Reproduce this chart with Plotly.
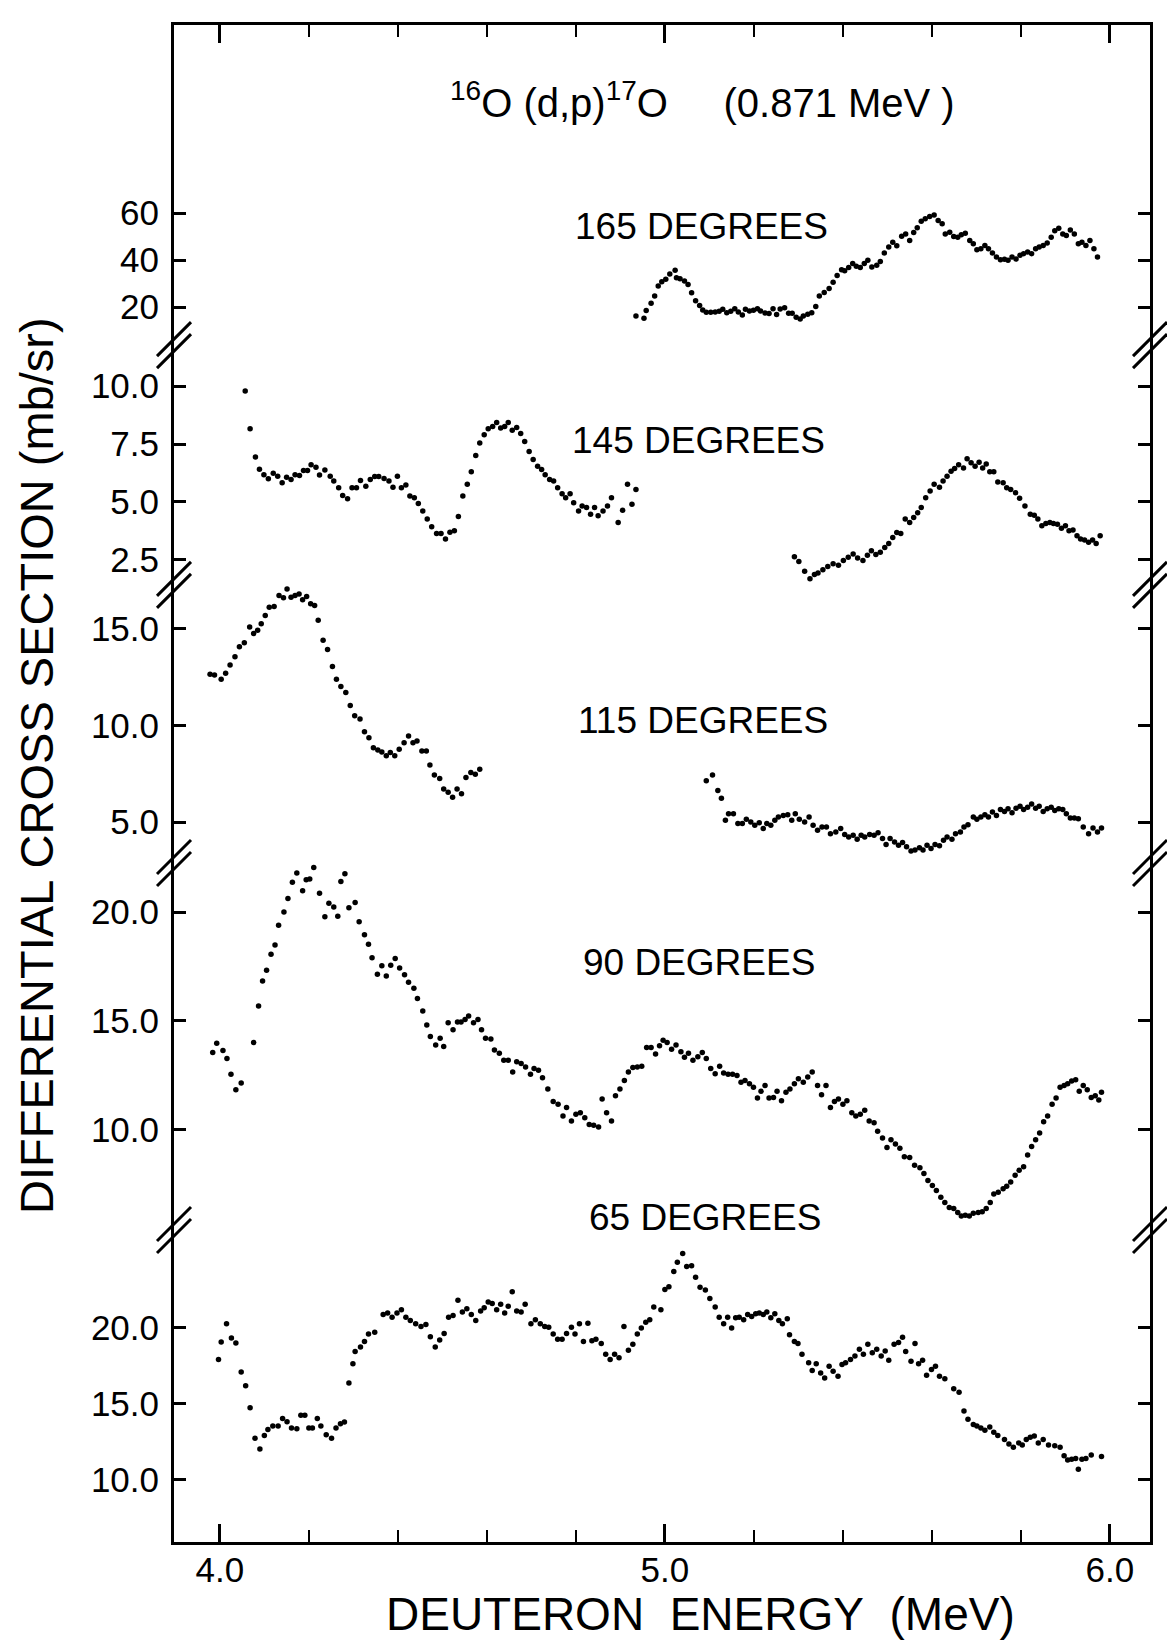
import plotly.graph_objects as go

# ---------------- data (deuteron energy MeV, cross section mb/sr) ----------------
pts165 = [(4.935,16.2),(4.953,15.2),(4.958,18.5),(4.969,21.6),(4.977,24.7),(4.985,28.9),(4.993,30.7),(5.002,31.8),(5.011,34.0),(5.023,35.6),
 (5.026,32.5),(5.034,32.0),(5.044,31.1),(5.052,29.6),(5.060,26.1),(5.069,22.7),(5.078,20.6),(5.085,18.7),(5.093,17.8),(5.103,17.8),
 (5.113,17.9),(5.122,18.2),(5.130,19.0),(5.139,17.6),(5.148,18.2),(5.157,19.3),(5.165,17.9),(5.174,16.6),(5.181,19.0),(5.190,18.3),
 (5.199,18.6),(5.208,19.3),(5.215,18.3),(5.225,17.5),(5.234,17.2),(5.243,19.3),(5.251,16.8),(5.259,19.2),(5.269,19.7),(5.278,17.3),
 (5.286,17.3),(5.295,15.6),(5.304,14.9),(5.311,16.2),(5.321,16.9),(5.330,17.6),(5.339,20.2),(5.347,24.7),(5.358,26.2),(5.369,27.9),
 (5.378,30.5),(5.387,33.4),(5.397,35.9),(5.404,35.4),(5.413,36.8),(5.422,38.5),(5.430,37.3),(5.439,36.8),(5.448,38.5),(5.456,39.9),(5.465,37.0),
 (5.476,37.8),(5.484,39.4),(5.493,43.0),(5.503,45.5),(5.512,47.6),(5.521,46.1),(5.532,50.1),(5.541,51.1),(5.550,48.3),(5.559,51.7),
 (5.567,53.7),(5.576,56.5),(5.585,57.6),(5.595,58.5),(5.605,59.2),(5.614,56.8),(5.623,55.4),(5.630,51.1),(5.640,51.8),(5.649,50.0),
 (5.658,49.7),(5.666,50.8),(5.675,51.4),(5.685,48.3),(5.693,46.9),(5.701,44.4),(5.710,44.8),(5.719,46.2),(5.727,44.8),(5.736,43.0),
 (5.745,41.3),(5.754,40.1),(5.763,40.3),(5.771,39.9),(5.780,41.3),(5.789,40.4),(5.798,42.0),(5.806,42.7),(5.815,43.4),(5.824,42.7),
 (5.833,44.8),(5.841,45.5),(5.850,46.2),(5.859,47.2),(5.868,49.7),(5.876,52.5),(5.885,53.5),(5.894,51.1),(5.902,50.4),(5.911,52.8),
 (5.920,51.1),(5.929,46.9),(5.937,47.6),(5.946,46.2),(5.955,48.3),(5.964,44.8),(5.972,41.3)]

pts145 = [(4.057,9.79),(4.068,8.16),(4.080,6.94),(4.089,6.41),(4.099,6.18),(4.109,6.00),(4.120,6.24),(4.130,6.11),(4.140,5.83),(4.150,6.07),
 (4.160,5.97),(4.169,6.18),(4.179,6.14),(4.188,6.36),(4.197,6.36),(4.205,6.61),(4.216,6.50),(4.224,6.16),(4.236,6.38),(4.248,6.11),
 (4.256,5.90),(4.267,5.61),(4.276,5.28),(4.287,5.14),(4.297,5.61),(4.307,5.61),(4.316,5.93),(4.328,5.68),(4.338,5.97),(4.348,6.10),
 (4.357,6.10),(4.369,6.01),(4.380,5.90),(4.389,5.64),(4.399,6.11),(4.408,5.61),(4.418,5.73),(4.427,5.26),(4.437,5.18),(4.446,4.93),
 (4.456,4.61),(4.466,4.26),(4.476,3.93),(4.487,3.64),(4.497,3.64),(4.507,3.40),(4.517,3.69),(4.527,3.76),(4.536,4.37),(4.546,5.26),
 (4.556,5.76),(4.565,6.30),(4.575,7.00),(4.584,7.54),(4.594,7.90),(4.603,8.16),(4.613,8.26),(4.622,8.43),(4.631,8.19),(4.640,8.26),
 (4.648,8.43),(4.657,8.09),(4.667,8.21),(4.676,7.96),(4.685,7.61),(4.695,7.18),(4.704,6.83),(4.714,6.54),(4.723,6.40),(4.731,6.18),
 (4.741,5.97),(4.750,5.90),(4.759,5.61),(4.769,5.36),(4.777,5.18),(4.787,5.36),(4.795,4.97),(4.806,4.61),(4.814,4.83),(4.824,4.76),
 (4.833,4.47),(4.842,4.76),(4.850,4.40),(4.861,4.61),(4.871,4.83),(4.880,5.18),(4.895,4.11),(4.905,4.64),(4.916,5.76),(4.926,4.90),
 (4.935,5.54),
 (5.291,2.64),(5.301,2.43),(5.314,2.01),(5.326,1.69),(5.336,1.87),(5.344,1.93),(5.355,2.07),(5.366,2.21),(5.378,2.33),(5.390,2.27),
 (5.401,2.47),(5.412,2.61),(5.423,2.76),(5.433,2.58),(5.445,2.47),(5.455,2.70),(5.464,2.90),(5.474,2.73),(5.484,2.83),(5.494,3.04),
 (5.503,3.21),(5.512,3.47),(5.521,3.68),(5.530,3.64),(5.540,4.26),(5.550,4.11),(5.559,4.33),(5.568,4.54),(5.576,4.76),(5.586,5.18),
 (5.596,5.47),(5.605,5.76),(5.617,5.64),(5.625,5.90),(5.634,6.11),(5.643,6.33),(5.651,6.44),(5.660,6.61),(5.671,6.47),(5.679,6.86),
 (5.688,6.69),(5.697,6.54),(5.706,6.71),(5.714,6.47),(5.722,6.64),(5.730,6.30),(5.739,6.30),(5.748,5.86),(5.760,5.83),(5.768,5.61),
 (5.777,5.54),(5.788,5.40),(5.797,5.16),(5.809,4.83),(5.821,4.47),(5.830,4.43),(5.838,4.26),(5.847,3.97),(5.856,4.07),(5.865,4.11),(5.873,4.07),
 (5.882,4.04),(5.891,3.87),(5.900,3.97),(5.908,3.76),(5.917,3.79),(5.926,3.54),(5.934,3.40),(5.943,3.36),(5.952,3.26),(5.961,3.36),
 (5.969,3.21),(5.978,3.54)]

pts115 = [(3.978,12.65),(3.988,12.62),(4.003,12.40),(4.013,12.71),(4.023,13.13),(4.034,13.56),(4.044,14.08),(4.055,14.28),(4.067,15.10),(4.076,14.76),
 (4.085,14.93),(4.093,15.27),(4.102,15.70),(4.111,16.13),(4.122,16.16),(4.133,16.73),(4.143,16.61),(4.151,17.07),(4.160,16.64),(4.169,16.73),
 (4.178,16.81),(4.186,16.51),(4.195,16.68),(4.204,16.30),(4.213,16.22),(4.221,15.45),(4.232,14.42),(4.242,13.94),(4.253,13.05),(4.262,12.40),
 (4.272,12.02),(4.283,11.71),(4.293,11.03),(4.303,10.51),(4.315,10.34),(4.325,9.67),(4.335,9.37),(4.345,8.85),(4.355,8.73),(4.364,8.63),
 (4.374,8.43),(4.383,8.60),(4.393,8.43),(4.403,8.77),(4.414,9.11),(4.424,9.45),(4.434,9.11),(4.443,9.20),(4.454,8.68),(4.464,8.68),
 (4.472,7.95),(4.482,7.43),(4.494,7.26),(4.503,6.71),(4.513,6.54),(4.523,6.29),(4.533,6.71),(4.543,6.46),(4.553,7.31),(4.564,7.57),
 (4.574,7.48),(4.584,7.74),
 (5.093,7.14),(5.107,7.43),(5.119,6.63),(5.127,6.23),(5.136,5.09),(5.143,5.43),(5.154,5.43),(5.164,4.92),(5.174,4.92),(5.183,5.14),
 (5.193,5.00),(5.202,4.83),(5.212,4.97),(5.221,4.66),(5.229,4.92),(5.238,4.83),(5.247,5.09),(5.255,5.26),(5.266,5.34),(5.276,5.38),
 (5.285,5.09),(5.293,5.43),(5.302,5.14),(5.314,5.00),(5.324,5.26),(5.333,4.83),(5.343,4.57),(5.353,4.74),(5.363,4.74),(5.372,4.40),
 (5.384,4.49),(5.395,4.66),(5.404,4.35),(5.413,4.23),(5.423,4.32),(5.432,4.11),(5.441,4.32),(5.449,4.23),(5.460,4.35),(5.470,4.32),
 (5.479,4.45),(5.489,4.15),(5.497,3.84),(5.506,4.15),(5.516,3.97),(5.525,3.80),(5.534,3.94),(5.543,3.72),(5.553,3.50),(5.562,3.55),
 (5.572,3.67),(5.580,3.55),(5.589,3.80),(5.598,3.63),(5.607,3.84),(5.617,3.77),(5.626,4.06),(5.634,4.23),(5.645,4.11),(5.653,4.40),
 (5.664,4.49),(5.672,4.74),(5.681,4.86),(5.693,5.26),(5.701,5.14),(5.710,5.26),(5.719,5.38),(5.727,5.26),(5.736,5.52),(5.745,5.34),
 (5.754,5.65),(5.763,5.55),(5.771,5.69),(5.780,5.48),(5.789,5.72),(5.798,5.82),(5.806,5.65),(5.815,5.77),(5.824,5.94),(5.833,5.72),
 (5.841,5.82),(5.850,5.55),(5.859,5.69),(5.868,5.77),(5.876,5.60),(5.885,5.69),(5.894,5.65),(5.902,5.43),(5.911,5.21),(5.920,5.21),
 (5.929,5.17),(5.940,4.74),(5.952,4.40),(5.962,4.69),(5.972,4.49),(5.981,4.69)]

pts90 = [(3.984,13.55),(3.993,13.98),(4.007,13.64),(4.016,13.28),(4.025,12.55),(4.036,11.84),(4.048,12.15),(4.076,14.01),(4.087,15.69),(4.096,16.83),
 (4.105,17.33),(4.115,18.06),(4.124,18.49),(4.132,19.39),(4.144,20.00),(4.153,20.62),(4.163,21.37),(4.173,21.79),(4.186,20.98),(4.194,21.48),
 (4.202,21.52),(4.211,22.04),(4.224,20.86),(4.236,19.78),(4.245,20.40),(4.256,20.23),(4.265,19.81),(4.272,21.40),(4.281,21.76),(4.290,20.20),
 (4.304,20.44),(4.313,19.55),(4.325,18.96),(4.334,18.52),(4.342,17.90),(4.354,17.14),(4.364,17.53),(4.374,17.06),(4.384,17.56),(4.394,17.87),
 (4.404,17.43),(4.415,17.12),(4.424,16.78),(4.436,16.50),(4.444,16.03),(4.456,15.46),(4.465,14.81),(4.473,14.29),(4.485,13.90),(4.495,14.21),
 (4.503,13.83),(4.513,14.92),(4.524,14.60),(4.534,14.95),(4.542,14.95),(4.551,15.07),(4.559,15.23),(4.570,14.92),(4.580,15.07),(4.588,14.60),
 (4.597,14.21),(4.609,14.17),(4.617,13.67),(4.628,13.52),(4.638,13.20),(4.648,13.20),(4.658,12.66),(4.667,13.13),(4.677,13.05),(4.687,12.89),
 (4.698,12.55),(4.706,12.82),(4.716,12.74),(4.725,12.40),(4.737,11.88),(4.749,11.31),(4.760,11.18),(4.771,10.64),(4.779,11.03),(4.790,10.41),
 (4.800,10.72),(4.810,10.79),(4.820,10.56),(4.830,10.25),(4.840,10.22),(4.851,10.13),(4.859,11.42),(4.869,10.79),(4.880,10.41),(4.889,11.57),
 (4.899,11.88),(4.909,12.27),(4.918,12.66),(4.928,12.86),(4.938,12.89),(4.948,12.92),(4.959,13.78),(4.969,13.78),(4.979,13.48),(4.988,13.86),
 (4.996,14.11),(5.005,14.01),(5.015,13.70),(5.025,13.90),(5.036,13.59),(5.044,13.33),(5.053,13.52),(5.063,13.20),(5.074,13.36),(5.084,13.55),
 (5.093,13.28),(5.103,12.82),(5.113,12.58),(5.123,12.92),(5.132,12.61),(5.142,12.55),(5.152,12.55),(5.162,12.50),(5.171,12.19),(5.180,12.27),
 (5.190,12.12),(5.199,11.96),(5.208,11.46),(5.216,11.77),(5.225,12.04),(5.234,11.46),(5.244,11.49),(5.252,11.77),(5.262,11.34),(5.272,11.73),
 (5.281,11.88),(5.291,12.12),(5.300,12.35),(5.311,12.19),(5.321,12.43),(5.331,12.66),(5.343,12.04),(5.352,11.62),(5.362,12.04),(5.372,11.03),
 (5.381,11.31),(5.390,11.42),(5.400,11.18),(5.409,11.34),(5.420,10.79),(5.429,10.64),(5.439,10.72),(5.449,10.90),(5.459,10.41),(5.470,10.33),
 (5.478,9.94),(5.489,9.63),(5.499,9.19),(5.508,9.55),(5.518,9.35),(5.528,9.16),(5.538,8.77),(5.550,8.73),(5.561,8.38),(5.573,8.26),
 (5.582,8.00),(5.591,7.68),(5.601,7.45),(5.610,7.22),(5.620,6.91),(5.629,6.67),(5.639,6.44),(5.649,6.39),(5.658,6.21),(5.666,6.05),
 (5.675,6.08),(5.684,6.05),(5.693,6.18),(5.704,6.21),(5.713,6.24),(5.722,6.39),(5.731,6.67),(5.739,7.06),(5.749,7.14),(5.760,7.30),
 (5.768,7.42),(5.777,7.61),(5.787,7.92),(5.796,8.15),(5.806,8.31),(5.815,8.85),(5.824,9.24),(5.833,9.55),(5.842,9.86),(5.851,10.37),
 (5.860,10.64),(5.870,11.18),(5.879,11.46),(5.888,11.96),(5.897,12.04),(5.905,12.12),(5.914,12.24),(5.923,12.30),(5.931,11.77),(5.940,12.04),
 (5.949,11.84),(5.958,11.49),(5.967,11.57),(5.975,11.37),(5.981,11.73)]

pts65 = [(3.997,17.92),(4.003,19.08),(4.015,20.27),(4.026,19.33),(4.036,19.00),(4.048,17.10),(4.058,16.18),(4.068,14.73),(4.079,12.72),(4.090,12.01),
 (4.100,12.90),(4.108,13.30),(4.119,13.53),(4.131,13.53),(4.141,14.02),(4.151,13.80),(4.161,13.39),(4.173,13.35),(4.182,14.24),(4.191,14.24),
 (4.200,13.39),(4.208,13.39),(4.219,14.02),(4.227,13.53),(4.239,12.95),(4.251,12.72),(4.261,13.39),(4.271,13.68),(4.280,13.79),(4.290,16.36),
 (4.299,17.63),(4.304,18.44),(4.316,18.75),(4.325,19.11),(4.334,19.60),(4.348,19.71),(4.367,20.89),(4.377,20.98),(4.387,20.71),(4.398,20.98),
 (4.408,21.21),(4.418,20.71),(4.428,20.49),(4.440,20.27),(4.452,20.09),(4.463,20.22),(4.473,19.42),(4.484,18.75),(4.494,19.20),(4.504,19.64),
 (4.514,20.71),(4.524,20.83),(4.535,21.83),(4.545,21.05),(4.555,21.27),(4.565,20.89),(4.575,20.49),(4.586,21.12),(4.594,21.34),(4.603,21.72),
 (4.612,21.61),(4.622,21.21),(4.631,21.56),(4.640,20.98),(4.648,21.43),(4.657,22.39),(4.667,21.12),(4.677,21.05),(4.686,21.56),(4.699,20.27),
 (4.709,20.54),(4.720,20.27),(4.730,20.09),(4.739,20.04),(4.749,19.60),(4.759,19.26),(4.769,19.26),(4.779,19.64),(4.790,20.04),(4.798,19.60),
 (4.808,20.27),(4.817,19.11),(4.827,20.31),(4.836,19.15),(4.845,19.26),(4.857,18.97),(4.867,18.26),(4.877,17.92),(4.887,18.26),(4.897,18.04),
 (4.908,20.09),(4.918,18.53),(4.928,18.93),(4.938,19.60),(4.947,20.00),(4.957,20.38),(4.966,20.54),(4.975,21.38),(4.991,21.21),(5.000,22.54),
 (5.009,22.72),(5.020,23.73),(5.028,24.33),(5.040,24.91),(5.049,24.06),(5.060,24.11),(5.069,23.35),(5.079,22.68),(5.091,22.50),(5.101,21.94),
 (5.113,21.38),(5.122,20.71),(5.132,20.27),(5.141,20.71),(5.150,20.00),(5.159,20.67),(5.167,20.71),(5.177,20.54),(5.186,20.89),(5.195,20.76),
 (5.204,20.94),(5.212,20.98),(5.221,20.89),(5.229,21.05),(5.238,20.67),(5.247,20.94),(5.256,20.49),(5.264,20.27),(5.275,20.60),(5.280,19.55),
 (5.291,19.11),(5.299,18.97),(5.308,18.26),(5.323,17.70),(5.331,17.19),(5.340,17.63),(5.350,17.03),(5.359,16.70),(5.369,17.48),(5.378,17.14),
 (5.389,16.81),(5.398,17.59),(5.406,17.70),(5.417,17.92),(5.427,18.15),(5.437,18.59),(5.446,18.26),(5.456,18.93),(5.466,18.37),(5.476,18.59),
 (5.486,18.15),(5.495,18.48),(5.503,17.86),(5.515,18.93),(5.525,19.04),(5.534,19.38),(5.541,18.44),(5.553,17.81),(5.562,18.97),(5.570,17.63),
 (5.579,17.86),(5.588,16.88),(5.599,17.25),(5.608,17.48),(5.617,16.81),(5.629,16.65),(5.649,15.98),(5.661,15.76),(5.672,14.51),(5.681,13.97),
 (5.693,13.62),(5.701,13.53),(5.710,13.39),(5.719,13.24),(5.730,13.46),(5.739,13.12),(5.748,12.90),(5.763,12.63),(5.773,12.34),(5.783,12.12),
 (5.795,12.41),(5.803,12.28),(5.812,12.63),(5.821,12.79),(5.830,12.86),(5.839,12.41),(5.850,12.63),(5.862,12.28),(5.876,12.23),(5.888,12.12),
 (5.897,11.56),(5.905,11.29),(5.914,11.34),(5.923,11.38),(5.929,10.67),(5.937,11.34),(5.946,11.38),(5.958,11.61),(5.981,11.52)]

panel_labels = ["165 DEGREES", "145 DEGREES", "115 DEGREES", "90 DEGREES", "65 DEGREES"]
ticks165 = [20, 40, 60];        ticktext165 = ["20", "40", "60"]
ticks145 = [2.5, 5, 7.5, 10];   ticktext145 = ["2.5", "5.0", "7.5", "10.0"]
ticks115 = [5, 10, 15];         ticktext115 = ["5.0", "10.0", "15.0"]
ticks90 = [10, 15, 20];         ticktext90 = ["10.0", "15.0", "20.0"]
ticks65 = [10, 15, 20];         ticktext65 = ["10.0", "15.0", "20.0"]
x_ticks = [4.0, 5.0, 6.0];      x_ticktext = ["4.0", "5.0", "6.0"]

# ---------------- layout geometry ----------------
W, H = 1167, 1644
ML, MR, MT, MB = 174, 17, 25, 102
FONT = "Liberation Sans, Arial, sans-serif"
TICKFONT = dict(family=FONT, size=35, color="black")

breaks = [0.789, 0.6309, 0.4476, 0.2057]
domains = [[0.789, 1.0], [0.6309, 0.789], [0.4476, 0.6309], [0.2057, 0.4476], [0.0, 0.2057]]
ranges = [[3.8, 140], [1.42, 11.77], [2.88, 17.28], [5.41, 22.25], [5.87, 26.47]]
series = [pts165, pts145, pts115, pts90, pts65]
tickvals = [ticks165, ticks145, ticks115, ticks90, ticks65]
ticktexts = [ticktext165, ticktext145, ticktext115, ticktext90, ticktext65]
label_pos = [(0.540, 0.8675), (0.537, 0.7264), (0.5415, 0.5412), (0.538, 0.382), (0.5436, 0.2136)]

fig = go.Figure()
for i, pts in enumerate(series):
    yid = "y" if i == 0 else f"y{i+1}"
    fig.add_trace(go.Scatter(
        x=[p[0] for p in pts], y=[p[1] for p in pts],
        mode="markers", xaxis="x", yaxis=yid,
        marker=dict(size=5.5, color="black"),
        showlegend=False, hoverinfo="skip"))
# helper so the top frame axis exists
fig.add_trace(go.Scatter(x=[], y=[], xaxis="x2", yaxis="y", showlegend=False))

XR = [3.897, 6.090]
layout = dict(
    width=W, height=H,
    margin=dict(l=ML, r=MR, t=MT, b=MB),
    paper_bgcolor="white", plot_bgcolor="white",
    showlegend=False,
    xaxis=dict(domain=[0, 1], range=XR, anchor="y5", showline=True, linecolor="black", linewidth=3,
               ticks="inside", ticklen=18, tickwidth=2.5, tickcolor="black",
               tickvals=x_ticks, ticktext=x_ticktext, tickfont=TICKFONT, ticklabelstandoff=-5,
               minor=dict(ticks="inside", ticklen=12, tickwidth=2, tickcolor="black", dtick=0.2, tick0=4.0, showgrid=False),
               showgrid=False, zeroline=False),
    xaxis2=dict(range=XR, overlaying="x", side="top", anchor="y", showline=True, linecolor="black", linewidth=3,
                ticks="inside", ticklen=18, tickwidth=2.5, tickcolor="black", tickvals=x_ticks, showticklabels=False,
                minor=dict(ticks="inside", ticklen=12, tickwidth=2, tickcolor="black", dtick=0.2, tick0=4.0, showgrid=False),
                showgrid=False, zeroline=False),
)
for i in range(5):
    key = "yaxis" if i == 0 else f"yaxis{i+1}"
    layout[key] = dict(domain=domains[i], range=ranges[i], anchor="x",
                       showline=True, linecolor="black", linewidth=3, mirror="ticks",
                       ticks="inside", ticklen=12, tickwidth=2.5, tickcolor="black",
                       tickvals=tickvals[i], ticktext=ticktexts[i], tickfont=TICKFONT,
                       ticklabelstandoff=5, showgrid=False, zeroline=False)
fig.update_layout(**layout)

# axis-break marks
shapes = []
for b in breaks:
    for side in (0, 1):
        for off in (6, -6):
            shapes.append(dict(type="line", xref="paper", yref="paper",
                               xsizemode="pixel", ysizemode="pixel", xanchor=side, yanchor=b,
                               x0=-17, x1=17, y0=off - 17, y1=off + 17,
                               line=dict(color="black", width=3)))
fig.update_layout(shapes=shapes)

NB = "\u00a0"
ann = []
for (lx, ly), txt in zip(label_pos, panel_labels):
    ann.append(dict(text=txt, x=lx, y=ly, xref="paper", yref="paper", showarrow=False,
                    xanchor="center", yanchor="middle", font=dict(family=FONT, size=37, color="black")))
ann.append(dict(text="<sup>16</sup>O" + NB + "(d,p)<sup>17</sup>O" + NB * 5 + "(0.871" + NB + "MeV" + NB + ")",
                x=0.541, y=0.9506, xref="paper", yref="paper", showarrow=False,
                xanchor="center", yanchor="middle", font=dict(family=FONT, size=40, color="black")))
ann.append(dict(text="DIFFERENTIAL CROSS SECTION (mb/sr)", x=-0.1404, y=0.5122, xref="paper", yref="paper",
                showarrow=False, textangle=-90, xanchor="center", yanchor="middle",
                font=dict(family=FONT, size=47, color="black")))
ann.append(dict(text="DEUTERON" + NB * 2 + "ENERGY" + NB * 2 + "(MeV)", x=0.539, y=-0.0475, xref="paper", yref="paper",
                showarrow=False, xanchor="center", yanchor="middle",
                font=dict(family=FONT, size=46, color="black")))
fig.update_layout(annotations=ann)

fig.write_html("out.html", config={"displayModeBar": False},
               post_script="document.body.style.margin='0px';document.body.style.padding='0px';")
